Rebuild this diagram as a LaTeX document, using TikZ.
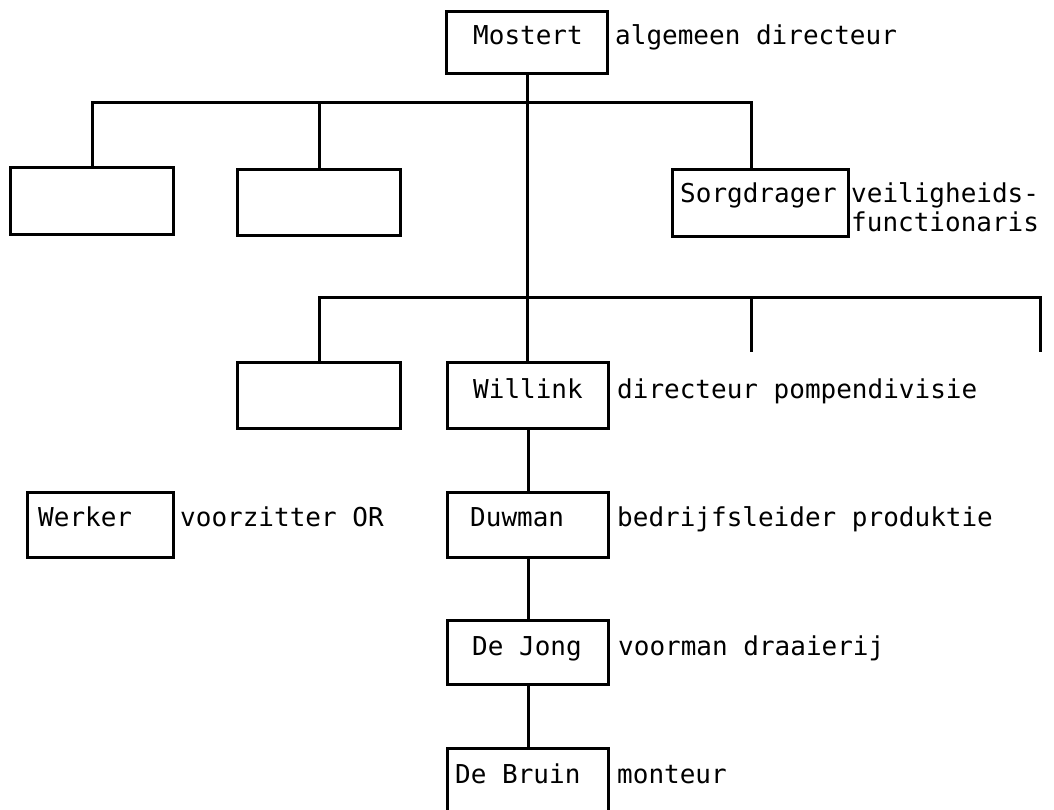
\documentclass[tikz,border=0pt]{standalone}
\usepackage{fontspec}
\setmonofont{DejaVu Sans Mono}
\begin{document}
\begin{tikzpicture}[x=1pt,y=-1pt,
  box/.style={draw, line width=3pt, inner sep=0pt, rectangle, anchor=north west},
  txt/.style={anchor=base west, inner sep=0pt, font=\fontsize{26}{30}\selectfont\ttfamily},
  conn/.style={line width=3pt}]
\useasboundingbox (0,0) rectangle (1054,810);
\clip (0,0) rectangle (1054,810);
\fill[white] (0,0) rectangle (1054,810);
% boxes
\node[box, minimum width=161pt, minimum height=62pt] (mostert) at (445,10) {};
\node[box, minimum width=163pt, minimum height=67pt] (boxa) at (9,166) {};
\node[box, minimum width=163pt, minimum height=66pt] (boxb) at (236,168) {};
\node[box, minimum width=176pt, minimum height=67pt] (sorg) at (671,168) {};
\node[box, minimum width=163pt, minimum height=66pt] (boxc) at (236,361) {};
\node[box, minimum width=161pt, minimum height=66pt] (willink) at (446,361) {};
\node[box, minimum width=146pt, minimum height=65pt] (werker) at (26,491) {};
\node[box, minimum width=161pt, minimum height=65pt] (duwman) at (446,491) {};
\node[box, minimum width=161pt, minimum height=64pt] (dejong) at (446,619) {};
\node[box, minimum width=161pt, minimum height=80pt] (debruin) at (446,747) {};
% junctions
\coordinate (j1) at (526,103);
\coordinate (s1) at (751,103);
\coordinate (j2) at (526,297);
\coordinate (e1) at (751,352);
\coordinate (e2) at (1040,352);
% connectors
\draw[conn] (mostert.south) -- (mostert.south |- willink.north);
\draw[conn] (boxa.north) -- (boxa.north |- j1) -- (s1) -- (s1 |- sorg.north);
\draw[conn] (boxb.north) -- (boxb.north |- j1);
\draw[conn] (boxc.north) -- (boxc.north |- j2) -- (e2 |- j2) -- (e2);
\draw[conn] (e1 |- j2) -- (e1);
\draw[conn] (willink.south) -- (duwman.north);
\draw[conn] (duwman.south) -- (dejong.north);
\draw[conn] (dejong.south) -- (debruin.north);
% texts
\node[txt] (tmostert) at (473,45) {Mostert};
\node[txt] (lmostert) at (615,45) {algemeen directeur};
\node[txt] (tsorg) at (680,203) {Sorgdrager};
\node[txt] (lsorg1) at (851,203) {veiligheids-};
\node[txt] (lsorg2) at (851,232) {functionaris};
\node[txt] (twillink) at (473,398) {Willink};
\node[txt] (lwillink) at (617,398) {directeur pompendivisie};
\node[txt] (twerker) at (38,526) {Werker};
\node[txt] (lwerker) at (180,526) {voorzitter OR};
\node[txt] (tduwman) at (470,526) {Duwman};
\node[txt] (lduwman) at (617,526) {bedrijfsleider produktie};
\node[txt] (tdejong) at (472,655) {De Jong};
\node[txt] (ldejong) at (618,655) {voorman draaierij};
\node[txt] (tdebruin) at (455,783) {De Bruin};
\node[txt] (ldebruin) at (617,783) {monteur};
\end{tikzpicture}
\end{document}
